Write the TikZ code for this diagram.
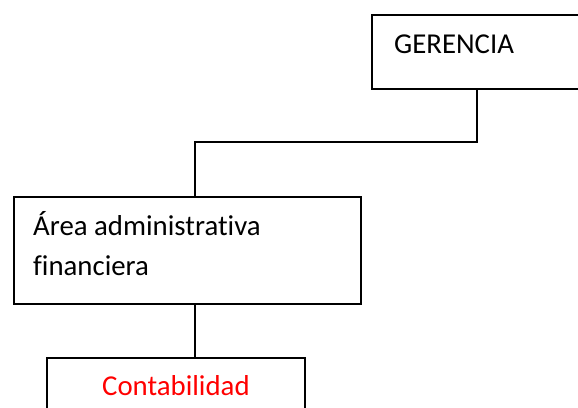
\documentclass[tikz,border=0pt]{standalone}
\usepackage{fontspec}
\setmainfont[Ligatures=NoCommon]{Carlito}
\begin{document}
\begin{tikzpicture}[x=1pt,y=-1pt,
  box/.style={draw=black, line width=1.6pt, fill=none, inner sep=0pt, anchor=north west},
  lbl/.style={inner sep=0pt, anchor=base west, font=\fontsize{28.8}{40}\selectfont},
  conn/.style={draw=black, line width=1.6pt}]
\useasboundingbox (0,0) rectangle (578,407);
\clip (0,0) rectangle (578,407);
\node[box, minimum width=230pt, minimum height=74pt] (g) at (371,14) {};
\node[lbl] (gt) at (394,53) {GERENCIA};
\node[box, minimum width=347pt, minimum height=107pt] (a) at (13,196) {};
\node[lbl, align=left] (at) at (33,275) {Área administrativa\\financiera};
\node[box, minimum width=258pt, minimum height=80pt] (c) at (46,357) {};
\node[lbl, text=red] (ct) at (102,395) {Contabilidad};
\coordinate (j1) at (477,142);
\coordinate (j2) at (195,142);
\draw[conn] (g.south -| j1) -- (j1) -- (j2) -- (a.north -| j2);
\draw[conn] (a.south -| j2) -- (c.north -| j2);
\end{tikzpicture}
\end{document}
